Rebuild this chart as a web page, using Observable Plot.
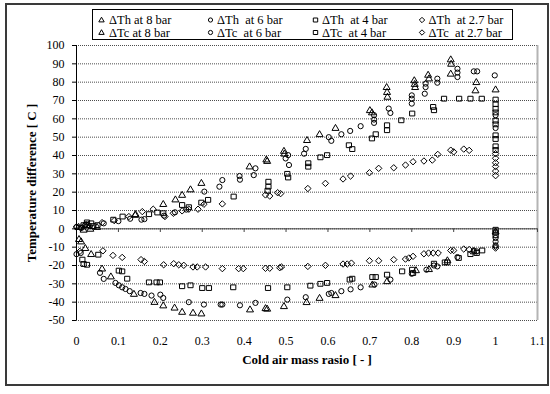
<!DOCTYPE html>
<html><head><meta charset="utf-8">
<script src="https://cdn.jsdelivr.net/npm/d3@7"></script>
<script src="https://cdn.jsdelivr.net/npm/@observablehq/plot@0.6"></script>
<style>
body{margin:0;background:#fff;}
#wrap{position:relative;width:550px;height:394px;overflow:hidden;background:#fff;}
#wrap svg{position:absolute;left:0;top:0;}
#frame{position:absolute;left:5px;top:3px;width:544px;height:383px;border:2px solid #3a3a3a;box-sizing:border-box;pointer-events:none;}
#legbox{position:absolute;left:92px;top:9px;width:421px;height:31px;border:1px solid #000;box-sizing:border-box;pointer-events:none;}
</style></head><body><div id="wrap"></div>
<script>
// ---- data ----
const th8x = [0.005,0.017,0.025,0.033,0.049,0.14,0.141,0.207,0.236,0.252,0.272,0.298,0.413,0.453,0.455,0.495,0.496,0.55,0.58,0.618,0.70,0.705,0.74,0.741,0.742,0.806,0.807,0.808,0.839,0.841,0.893,0.894,0.893,0.954,0.952,1.0];
const th8y = [1,-0.5,2,0,1,7.6,8,13.5,16,18.5,21.5,25,34,37.8,37,42.5,41,48.4,51.6,55,64.7,63.5,77.3,74.6,72,81,79,77.3,84,82,92.4,90,84.6,80,75.5,76];

const tc8x = [0.006,0.011,0.021,0.035,0.061,0.082,0.137,0.186,0.207,0.234,0.252,0.278,0.298,0.414,0.451,0.455,0.495,0.549,0.58,0.618,0.706,0.741,0.81,0.841,0.885,0.948,1.0];
const tc8y = [-5.6,-6.9,-10.5,-13.8,-21.7,-26,-35.5,-39.9,-41.8,-43,-45.3,-45.8,-46.2,-44,-43.3,-43.6,-42.2,-40,-37.7,-36.2,-30.4,-28.6,-22.6,-22,-17.2,-12.3,-1.5];

const th6x = [0,0.012,0.022,0.032,0.065,0.1,0.128,0.155,0.162,0.209,0.235,0.262,0.305,0.341,0.348,0.389,0.39,0.423,0.427,0.499,0.505,0.507,0.543,0.547,0.602,0.608,0.632,0.653,0.678,0.71,0.71,0.71,0.745,0.749,0.80,0.80,0.80,0.833,0.833,0.831,0.861,0.861,0.909,0.909,0.909,0.948,0.956,0.998,1,1];
const th6y = [1,0.5,2.5,1.5,3,4.2,5.5,5,5.3,7.2,9,10.5,20.3,23,26.6,28.8,26.8,29.3,33,38.4,40.2,34.8,41,43.6,50,48,51.6,53.4,56,62,59.6,57.8,65.6,63.2,72.8,71,68.3,79.2,77.3,73.7,81.9,79.7,87.3,85.2,82.8,85.9,85.9,83.7,62,55];

const tc6x = [0,0.01,0.056,0.065,0.093,0.101,0.109,0.117,0.127,0.153,0.162,0.179,0.2,0.207,0.268,0.304,0.344,0.348,0.39,0.427,0.503,0.547,0.602,0.608,0.632,0.654,0.678,0.711,0.749,0.80,0.835,0.853,0.861,0.909,0.948,0.955,1,1,1];
const tc6y = [-13.8,-13.2,-24,-27.3,-29.5,-30.8,-31.9,-32.8,-34,-35,-35.5,-36.4,-35.9,-37.7,-40,-41.3,-41.3,-41.3,-41.7,-40.4,-38.6,-37.3,-35.5,-35,-34,-33,-31.9,-30.4,-27.7,-24.5,-22.3,-20,-20.5,-15.4,-11.8,-12.3,-5,-7,-9];

const th4x = [0.017,0.025,0.035,0.04,0.05,0.088,0.11,0.173,0.193,0.207,0.252,0.268,0.298,0.314,0.375,0.458,0.458,0.456,0.503,0.505,0.553,0.553,0.582,0.598,0.65,0.658,0.705,0.714,0.741,0.741,0.775,0.801,0.851,0.853,0.877,0.913,0.94,0.967,1,1,1,1,1,1,1,1,1,1];
const th4y = [2,3.5,3,1.5,2,5,6.7,8,8.9,8.5,13,11.8,14.3,15.8,17.6,25.7,23,20.8,30,28,35.8,33.9,39,40.2,45.6,43.5,49.3,51.6,56.5,53.8,59.2,62.9,66.5,64.7,71,71,71,71,70.5,68,65.5,63.5,59,57,51,49,45,43];

const tc4x = [0.014,0.017,0.025,0.052,0.101,0.109,0.121,0.173,0.191,0.199,0.252,0.272,0.3,0.316,0.374,0.457,0.503,0.558,0.582,0.598,0.652,0.658,0.706,0.714,0.741,0.777,0.801,0.803,0.853,0.879,0.885,0.912,0.94,0.955,0.968,1,1,1];
const tc4y = [-16.8,-19.2,-19.6,-14.1,-22.8,-23.2,-27.2,-29.2,-29.2,-29.2,-31.3,-30.8,-32.3,-32.3,-31.9,-32.3,-31.9,-31,-30,-29.5,-27.7,-27.2,-26.3,-26.3,-25,-23.2,-22.3,-24.1,-19,-18.3,-18.3,-15.9,-13.8,-13.2,-11.8,-0.5,-2,-3.5];

const th27x = [0,0.01,0.02,0.061,0.09,0.125,0.157,0.183,0.211,0.231,0.252,0.268,0.29,0.304,0.348,0.451,0.461,0.48,0.487,0.552,0.594,0.636,0.654,0.699,0.721,0.757,0.785,0.803,0.829,0.849,0.862,0.893,0.9,0.924,0.937,1,1,1,1,1,1];
const th27y = [1,0.5,2,3.4,4.5,6.7,9.4,10.7,6.7,8.5,9.8,10.7,10.7,13.4,13.6,18.5,17.9,19.7,19.2,22,24.8,27.2,28.8,30.6,33,33.3,34.8,36.6,37,37.5,40.6,42.9,42,43.5,42.8,41,38.5,36,34,31.5,29];

const tc27x = [0.008,0.063,0.087,0.109,0.154,0.162,0.208,0.232,0.244,0.256,0.278,0.288,0.308,0.348,0.387,0.398,0.451,0.461,0.485,0.489,0.552,0.594,0.636,0.646,0.656,0.699,0.721,0.757,0.785,0.793,0.803,0.829,0.84,0.851,0.863,0.893,0.9,0.924,0.937,1,1];
const tc27y = [-12.3,-12,-14.5,-15.6,-16.8,-17.8,-19.6,-19,-19.6,-19.9,-20.8,-20.8,-20.8,-21.7,-21.7,-21.7,-21.5,-21.5,-21.2,-20.8,-20.5,-19.9,-19.2,-19.2,-18.7,-17.4,-17.4,-16.8,-16.5,-15.9,-15,-13.6,-13.2,-13.2,-13.2,-11.8,-11.8,-11,-11.3,-9.6,-10.5];

const xTicks = [0,0.1,0.2,0.3,0.4,0.5,0.6,0.7,0.8,0.9,1,1.1];
const yTicks = [-50,-40,-30,-20,-10,0,10,20,30,40,50,60,70,80,90,100];
const legendLabels = ["ΔTh at 8 bar","ΔTc at 8 bar","ΔTh\u00a0 at 6 bar","ΔTc\u00a0 at 6 bar","ΔTh\u00a0 at 4 bar","ΔTc\u00a0 at 4 bar","ΔTh\u00a0 at 2.7 bar","ΔTc\u00a0 at 2.7 bar"];
const xTitle = "Cold air mass rasio [ - ]";
const yTitle = "Temperature difference [ C ]";

// ---- marker shapes (Excel-like) ----
const triSym = {draw(c){c.moveTo(0,-3.6);c.lineTo(3.5,2.4);c.lineTo(-3.5,2.4);c.closePath();}};
const cirSym = {draw(c){c.moveTo(2.6,0);c.arc(0,0,2.6,0,2*Math.PI);}};
const sqSym  = {draw(c){c.rect(-2.6,-2.4,5.2,4.8);}};
const diaSym = {draw(c){c.moveTo(0,-3.2);c.lineTo(3.2,0);c.lineTo(0,3.2);c.lineTo(-3.2,0);c.closePath();}};
const triS = {draw(c){c.moveTo(0,-2.8);c.lineTo(2.7,1.9);c.lineTo(-2.7,1.9);c.closePath();}};
const cirS = {draw(c){c.moveTo(2.1,0);c.arc(0,0,2.1,0,2*Math.PI);}};
const sqS  = {draw(c){c.rect(-2.2,-2,4.4,4);}};
const diaS = {draw(c){c.moveTo(0,-2.7);c.lineTo(2.7,0);c.lineTo(0,2.7);c.lineTo(-2.7,0);c.closePath();}};

const pts = (xs, ys) => xs.map((x, i) => ({x, y: ys[i]}));
const series = [
  [pts(th8x, th8y), triSym], [pts(tc8x, tc8y), triSym],
  [pts(th6x, th6y), cirSym], [pts(tc6x, tc6y), cirSym],
  [pts(th4x, th4y), sqSym],  [pts(tc4x, tc4y), sqSym],
  [pts(th27x, th27y), diaSym], [pts(tc27x, tc27y), diaSym]
];
const legendSyms = [triS, triS, cirS, cirS, sqS, sqS, diaS, diaS];

const font = "'Liberation Serif','Times New Roman',serif";
const L = 76, T = 45;
const colMark = [101, 210, 315, 421.5], colText = [108.5, 216.5, 321.5, 428];
const rowY = [19.5, 32];

const legendMarks = legendLabels.flatMap((lab, i) => {
  const col = Math.floor(i / 2), row = i % 2;
  return [
    Plot.dot([0], {frameAnchor: "top-left", dx: colMark[col] - L, dy: rowY[row] - T, symbol: legendSyms[i], stroke: "#000", fill: "none", strokeWidth: 1}),
    Plot.text([lab], {frameAnchor: "top-left", dx: colText[col] - L, dy: rowY[row] - T, text: d => d, textAnchor: "start", lineAnchor: "middle", fontSize: 12.5, fill: "#000"})
  ];
});

const chart = Plot.plot({
  width: 550, height: 394,
  marginLeft: 76, marginRight: 13, marginTop: 45, marginBottom: 74,
  style: {fontFamily: font, fontSize: "12px", color: "#000", background: "transparent"},
  x: {domain: [0, 1.1], label: null},
  y: {domain: [-50, 100], label: null},
  marks: [
    Plot.ruleY(yTicks, {stroke: "#000", strokeDasharray: "1,1", strokeOpacity: 0.7}),
    Plot.ruleX([1.1], {stroke: "#b4b4b4", strokeWidth: 2}),
    Plot.ruleY([0], {stroke: "#444", strokeWidth: 1}),
    Plot.ruleX(xTicks.slice(1), {y1: 0, y2: -2, stroke: "#444"}),
    Plot.ruleX([0], {stroke: "#000", strokeWidth: 1}),
    Plot.axisY({ticks: yTicks, tickSize: 4, tickPadding: 8, tickFormat: d => String(d), fontSize: 12, label: null}),
    Plot.axisX({ticks: xTicks, tickSize: 0, tickPadding: 16, tickFormat: d => String(d), fontSize: 12, label: null}),
    ...series.map(([data, sym]) => Plot.dot(data, {x: "x", y: "y", symbol: sym, stroke: "#000", fill: "none", strokeWidth: 1})),
    Plot.text([xTitle], {frameAnchor: "bottom", dy: 39, text: d => d, textAnchor: "middle", lineAnchor: "middle", fontWeight: "bold", fontSize: 13, fill: "#000"}),
    Plot.text([yTitle], {frameAnchor: "left", dx: -45, rotate: -90, text: d => d, textAnchor: "middle", lineAnchor: "middle", fontWeight: "bold", fontSize: 13, fill: "#000"}),
    ...legendMarks
  ]
});
const wrap = document.getElementById("wrap");
wrap.appendChild(chart);
const fr = document.createElement("div"); fr.id = "frame"; wrap.appendChild(fr);
const lb = document.createElement("div"); lb.id = "legbox"; wrap.appendChild(lb);
</script></body></html>
